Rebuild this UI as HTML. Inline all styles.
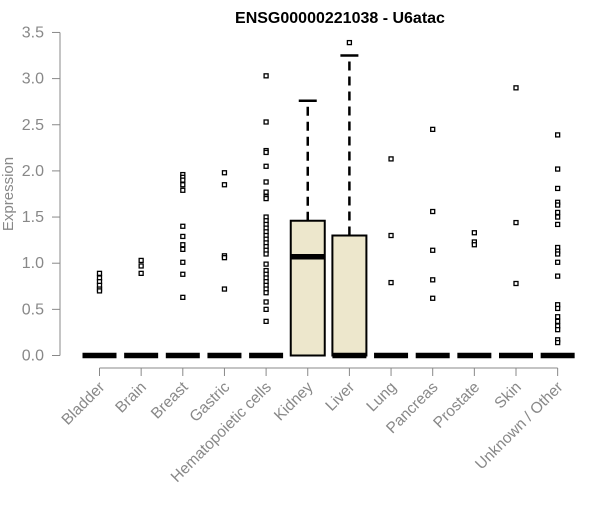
<!DOCTYPE html>
<html><head><meta charset="utf-8"><style>
body{margin:0;background:#fff}
svg text{font-family:"Liberation Sans",sans-serif}
</style></head><body>
<svg id="chart" width="600" height="500" xmlns="http://www.w3.org/2000/svg">
<text x="340" y="23" text-anchor="middle" font-size="16" font-weight="bold">ENSG00000221038 - U6atac</text>
<text transform="translate(13,194) rotate(-90)" text-anchor="middle" font-size="15" fill="#888">Expression</text>
<g id="g"></g>
</svg>
<script>
const categories=["Bladder","Brain","Breast","Gastric","Hematopoietic cells","Kidney","Liver","Lung","Pancreas","Prostate","Skin","Unknown / Other"];
const q1=[0,0,0,0,0,0,0,0,0,0,0,0];
const medians=[0,0,0,0,0,1.07,0,0,0,0,0,0];
const q3=[0,0,0,0,0,1.46,1.30,0,0,0,0,0];
const whiskerHigh=[0,0,0,0,0,2.76,3.25,0,0,0,0,0];
const outliers=[
[0.89,0.84,0.80,0.76,0.72,0.70],
[1.03,0.97,0.89],
[1.96,1.93,1.90,1.85,1.79,1.40,1.29,1.20,1.15,1.01,0.88,0.63],
[1.98,1.85,1.08,1.06,0.72],
[3.03,2.53,2.22,2.20,2.05,1.88,1.77,1.72,1.70,1.50,1.46,1.42,1.38,1.34,1.30,1.26,1.22,1.18,1.14,1.10,0.99,0.92,0.88,0.84,0.80,0.76,0.72,0.68,0.58,0.50,0.37],
[],
[3.39],
[2.13,1.30,0.79],
[2.45,1.56,1.14,0.82,0.62],
[1.33,1.23,1.20],
[2.90,1.44,0.78],
[2.39,2.02,1.81,1.66,1.63,1.55,1.50,1.42,1.17,1.13,1.10,1.01,0.86,0.55,0.51,0.42,0.37,0.32,0.28,0.17,0.14]
];
const yTicks=["0.0","0.5","1.0","1.5","2.0","2.5","3.0","3.5"];
const NS="http://www.w3.org/2000/svg";
const g=document.getElementById('g');
const y=v=>355.5-v*92.3;
const x=i=>99.5+i*41.65;
const hw=17;
function mk(t,a){const e=document.createElementNS(NS,t);for(const k in a)e.setAttribute(k,a[k]);g.appendChild(e);return e;}
let ax=mk('line',{x1:60,x2:60,y1:y(0),y2:y(3.5),stroke:'#888'});


yTicks.forEach(t=>{const v=parseFloat(t);
 mk('line',{x1:52,x2:60,y1:y(v),y2:y(v),stroke:'#888'});
 const tx=mk('text',{x:44,y:y(v)+5,'text-anchor':'end','font-size':16,fill:'#888'});tx.textContent=t;
 
 
});
let xa=mk('line',{x1:x(0),x2:x(categories.length-1),y1:368,y2:368,stroke:'#888'});


categories.forEach((c,i)=>{
 const cx=x(i);
 mk('line',{x1:cx,x2:cx,y1:368,y2:376,stroke:'#888'});
 const tx=mk('text',{transform:`translate(${cx+6},${388}) rotate(-45)`,'text-anchor':'end','font-size':15.5,fill:'#888'});tx.textContent=c;
 
 
 if(whiskerHigh[i]>q3[i]){
  mk('line',{x1:cx,x2:cx,y1:y(q3[i]),y2:y(whiskerHigh[i]),stroke:'#000','stroke-width':2.5,'stroke-dasharray':'9,6'});
  mk('line',{x1:cx-9,x2:cx+9,y1:y(whiskerHigh[i]),y2:y(whiskerHigh[i]),stroke:'#000','stroke-width':2.5});
 }
 if(q3[i]>q1[i]){
  const b=mk('rect',{x:cx-hw,y:y(q3[i]),width:hw*2,height:y(q1[i])-y(q3[i]),fill:'#ede7cc',stroke:'#000','stroke-width':2});
  
  
 }
 const m=mk('line',{x1:cx-hw,x2:cx+hw,y1:y(medians[i]),y2:y(medians[i]),stroke:'#000','stroke-width':5.5});
 
 
 outliers[i].forEach(v=>{
  const p=mk('rect',{x:cx-2,y:y(v)-2,width:4,height:4,fill:'#fff',stroke:'#000','stroke-width':1.3});
  
  
 });
});
</script>
</body></html>
